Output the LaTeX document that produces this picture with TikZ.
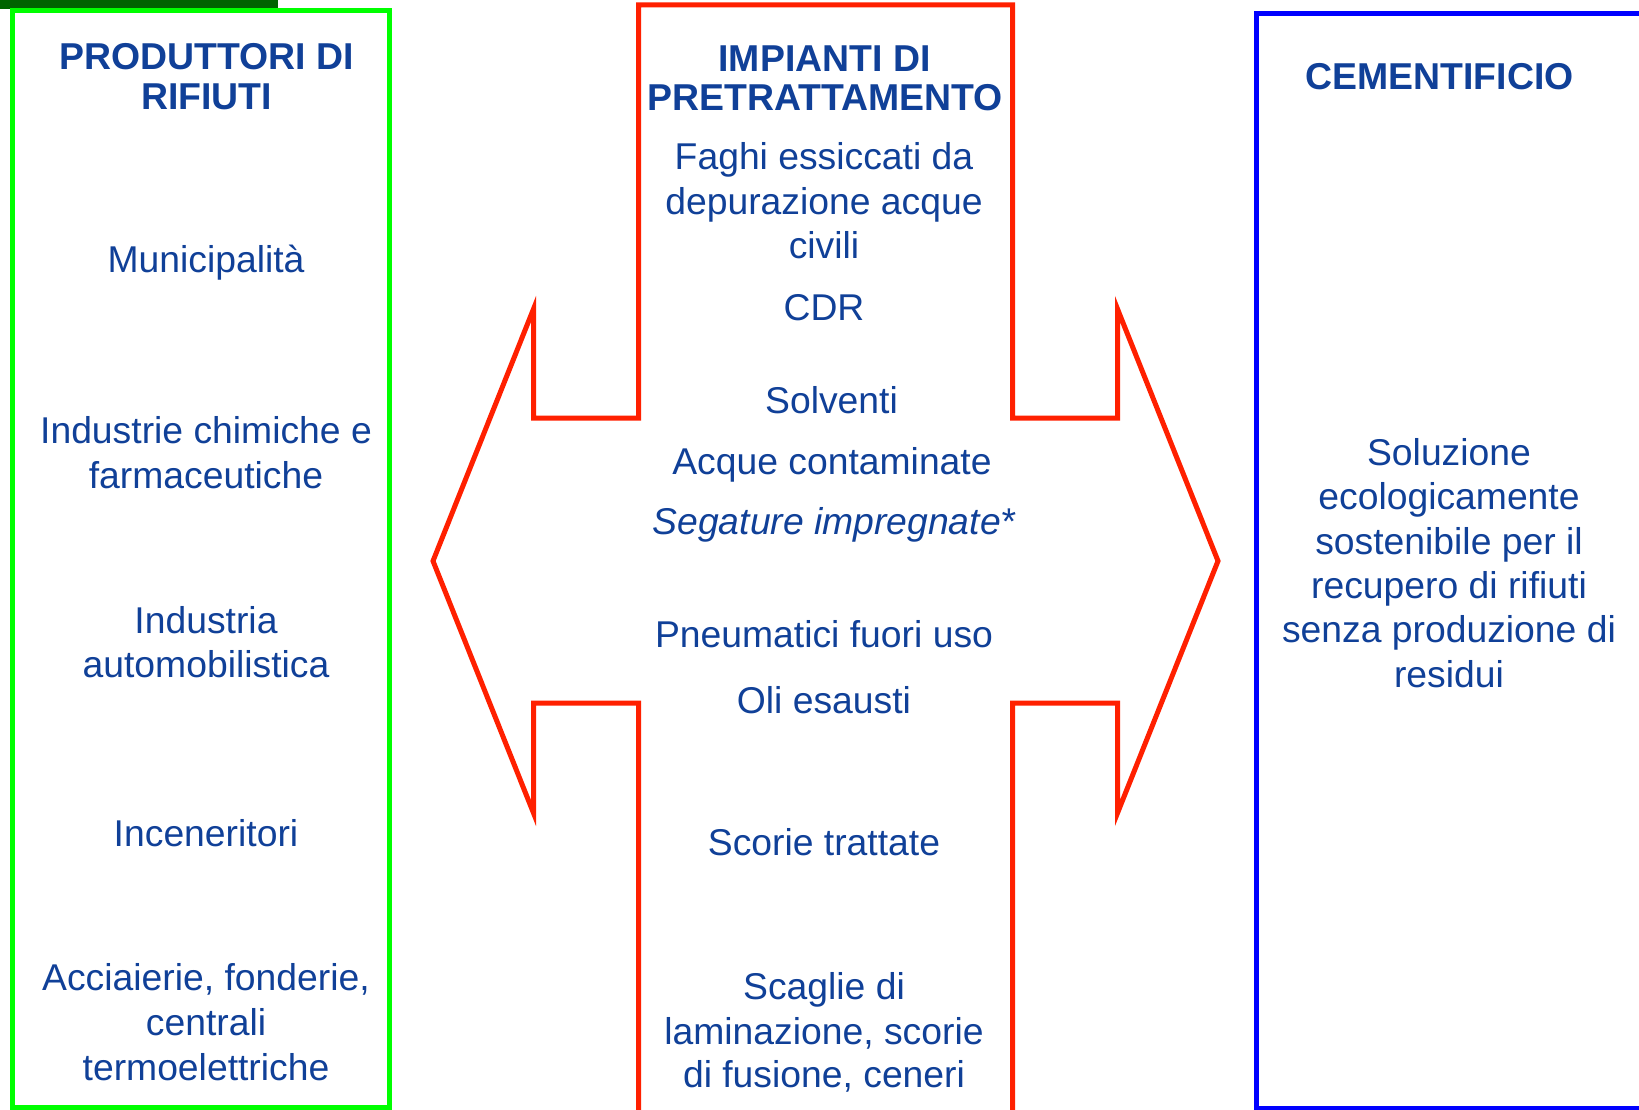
\documentclass[tikz,border=0pt]{standalone}
\usepackage{fontspec}
\setmainfont{Liberation Sans}
\definecolor{tblue}{RGB}{16,64,152}
\definecolor{dgreen}{RGB}{0,100,0}
\definecolor{lgreen}{RGB}{0,255,0}
\definecolor{rred}{RGB}{255,32,0}
\definecolor{bblue}{RGB}{0,0,255}
\tikzset{
  txt/.style={font=\fontsize{37.3}{44}\selectfont, text=tblue, anchor=base, inner sep=0pt},
  ttl/.style={font=\fontsize{37.4}{40}\selectfont\bfseries, text=tblue, anchor=base, inner sep=0pt},
  greenbox/.style={draw=lgreen, line width=5pt},
  redshape/.style={draw=rred, line width=5pt, line join=miter},
  bluebox/.style={draw=bblue, line width=5pt},
}
\begin{document}
\begin{tikzpicture}[x=1pt,y=-1pt]
\clip (0,0) rectangle (1639,1110);
\fill[white] (0,0) rectangle (1639,1110);
\fill[dgreen] (0,0) rectangle (278,9);
% boxes
\draw[greenbox] (12.5,10.5) rectangle (389.5,1107.5);
\draw[redshape] (638.5,1125) -- (638.5,703) -- (533.5,703) -- (533.5,813) -- (433,561)
  -- (533.5,309) -- (533.5,418) -- (638.5,418) -- (638.5,5) -- (1012.5,5) -- (1012.5,418)
  -- (1117.5,418) -- (1117.5,309) -- (1218,561) -- (1117.5,813) -- (1117.5,703)
  -- (1012.5,703) -- (1012.5,1125);
\draw[bluebox] (1680,14) -- (1256,14) -- (1256,1108.5) -- (1680,1108.5);
% left column
\node[ttl] (l1) at (206.5,70) {PRODUTTORI DI};
\node[ttl] (l2) at (206.5,110) {RIFIUTI};
\node[txt] (l3) at (206,272.8) {Municipalità};
\node[txt] (l4) at (206,443.2) {Industrie chimiche e};
\node[txt] (l5) at (206,488.1) {farmaceutiche};
\node[txt] (l6) at (206,633.5) {Industria};
\node[txt] (l7) at (206,677.3) {automobilistica};
\node[txt] (l8) at (206,846.7) {Inceneritori};
\node[txt] (l9) at (206,990.9) {Acciaierie, fonderie,};
\node[txt] (l10) at (206,1035.8) {centrali};
\node[txt] (l11) at (206,1080) {termoelettriche};
% middle column
\node[ttl] (m1) at (824.5,71.5) {IMPIANTI DI};
\node[ttl] (m2) at (825,111) {PRETRATTAMENTO};
\node[txt] (m3) at (824,169.3) {Faghi essiccati da};
\node[txt] (m4) at (824,214.2) {depurazione acque};
\node[txt] (m5) at (824,258.1) {civili};
\node[txt] (m6) at (824,320.9) {CDR};
\node[txt] (m7) at (831.5,413.9) {Solventi};
\node[txt] (m8) at (832,474.5) {Acque contaminate};
\node[txt, font=\fontsize{37.3}{44}\selectfont\itshape] (m9) at (834,534.1) {Segature impregnate*};
\node[txt] (m10) at (824,647) {Pneumatici fuori uso};
\node[txt] (m11) at (824,713.9) {Oli esausti};
\node[txt] (m12) at (824,855) {Scorie trattate};
\node[txt] (m13) at (824,999.3) {Scaglie di};
\node[txt] (m14) at (824,1044.2) {laminazione, scorie};
\node[txt] (m15) at (824,1087.5) {di fusione, ceneri};
% right column
\node[ttl] (r1) at (1439.5,90) {CEMENTIFICIO};
\node[txt] (r2) at (1449,465.1) {Soluzione};
\node[txt] (r3) at (1449,509) {ecologicamente};
\node[txt] (r4) at (1449,554) {sostenibile per il};
\node[txt] (r5) at (1449,598.9) {recupero di rifiuti};
\node[txt] (r6) at (1449,642.8) {senza produzione di};
\node[txt] (r7) at (1449,687.8) {residui};
\end{tikzpicture}
\end{document}
